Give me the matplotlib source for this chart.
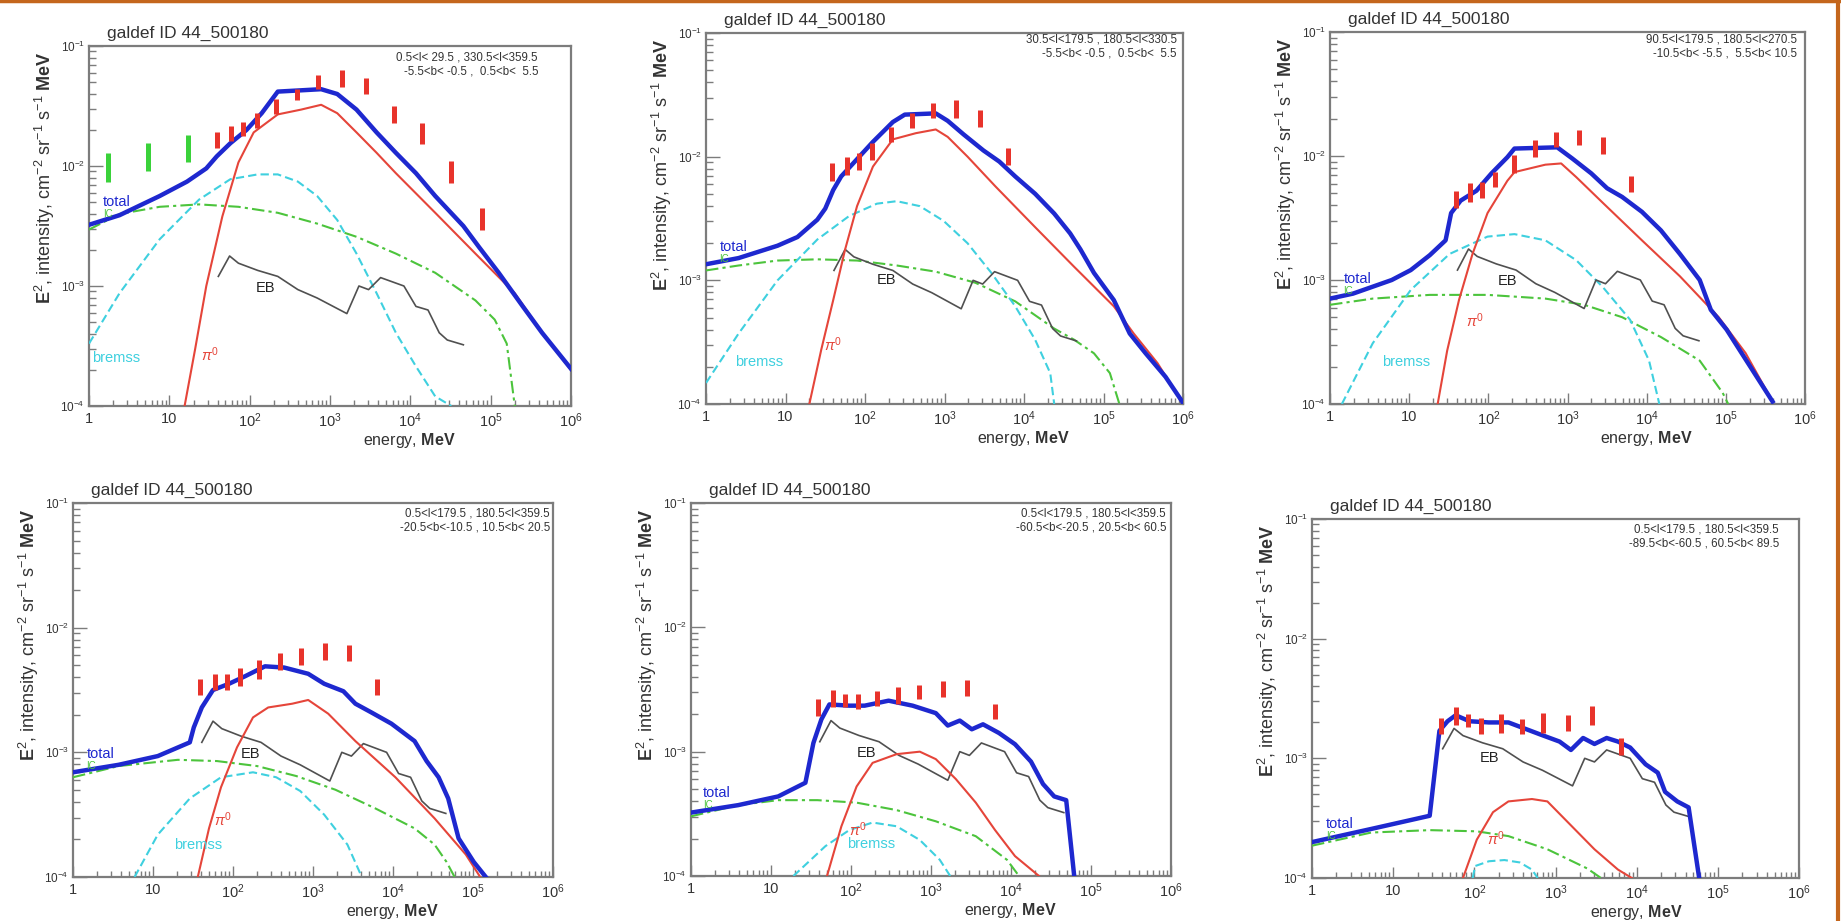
import numpy as np
import matplotlib
matplotlib.use("Agg")
import matplotlib.pyplot as plt
from matplotlib.lines import Line2D

plt.rcParams['font.family'] = ['Liberation Sans', 'DejaVu Sans']
plt.rcParams['mathtext.fontset'] = 'custom'
plt.rcParams['mathtext.rm'] = 'Liberation Sans'
plt.rcParams['mathtext.it'] = 'Liberation Sans:italic'
plt.rcParams['mathtext.bf'] = 'Liberation Sans:bold'

# ---------------- data (log10 E [MeV], log10 E^2 I) ----------------
EB_lgE = [1.61, 1.75, 1.86, 2.10, 2.35, 2.60, 2.84, 3.21, 3.36, 3.48, 3.63, 3.92, 4.07, 4.22, 4.36, 4.46, 4.66]
EB_lgI = [-2.92, -2.75, -2.81, -2.87, -2.92, -3.03, -3.10, -3.23, -3.00, -3.03, -2.93, -3.00, -3.17, -3.20, -3.39, -3.45, -3.49]

EGRET_E = [38.7, 59.2, 83.7, 122, 212, 387, 707, 1414, 2828, 6325, 14142, 31623, 77460]
COMPTEL_E = [1.73, 5.48, 17.3]
A_COMPTEL_lo = [-2.13, -2.04, -1.97]
A_COMPTEL_hi = [-1.89, -1.81, -1.74]

# Panel A
A_total_lgE = [0, .38, .88, 1.22, 1.46, 1.59, 1.76, 1.96, 2.15, 2.35, 2.89, 3.09, 3.33, 3.58, 3.82, 4.07, 4.31, 4.66, 4.86, 5.10, 5.40, 5.64, 6.0]
A_total_lgI = [-2.49, -2.41, -2.25, -2.13, -2.02, -1.92, -1.81, -1.70, -1.56, -1.38, -1.36, -1.40, -1.53, -1.72, -1.89, -2.06, -2.25, -2.50, -2.68, -2.89, -3.17, -3.39, -3.69]
A_pi0_lgE = [1.19, 1.32, 1.46, 1.66, 1.86, 2.05, 2.35, 2.64, 2.89, 3.09, 3.33, 3.58, 3.82, 4.31, 4.81, 5.30, 5.59, 6.0]
A_pi0_lgI = [-4.0, -3.53, -3.00, -2.42, -1.97, -1.72, -1.57, -1.53, -1.49, -1.56, -1.72, -1.89, -2.06, -2.39, -2.73, -3.06, -3.34, -3.70]
A_brems_lgE = [0, .38, .88, 1.37, 1.76, 2.10, 2.35, 2.60, 2.84, 3.09, 3.33, 3.58, 3.82, 4.07, 4.31, 4.51]
A_brems_lgI = [-3.48, -3.06, -2.61, -2.28, -2.11, -2.07, -2.07, -2.13, -2.25, -2.45, -2.73, -3.06, -3.39, -3.67, -3.92, -4.0]
A_IC_lgE = [0, .38, .88, 1.37, 1.86, 2.35, 2.84, 3.33, 3.82, 4.31, 4.81, 5.05, 5.20, 5.30]
A_IC_lgI = [-2.53, -2.40, -2.34, -2.32, -2.34, -2.39, -2.48, -2.59, -2.73, -2.89, -3.12, -3.28, -3.48, -4.0]
A_EGRET_lo = [-1.85, -1.79, -1.75, -1.68, -1.57, -1.45, -1.36, -1.34, -1.40, -1.64, -1.82, -2.14, -2.53]
A_EGRET_hi = [-1.72, -1.67, -1.63, -1.56, -1.44, -1.36, -1.24, -1.20, -1.27, -1.50, -1.64, -1.96, -2.35]

# Panel B
B_total_lgE = [0, .41, .90, 1.15, 1.40, 1.50, 1.60, 1.70, 1.90, 2.10, 2.35, 2.50, 2.89, 3.04, 3.24, 3.49, 3.69, 3.89, 4.14, 4.38, 4.58, 4.71, 4.88, 5.13, 5.33, 5.53, 5.78, 6.0]
B_total_lgI = [-2.87, -2.82, -2.72, -2.65, -2.51, -2.42, -2.27, -2.16, -2.02, -1.88, -1.72, -1.66, -1.65, -1.71, -1.82, -1.95, -2.04, -2.16, -2.30, -2.46, -2.62, -2.75, -2.94, -3.16, -3.43, -3.59, -3.78, -3.99]
B_pi0_lgE = [1.30, 1.45, 1.60, 1.75, 1.90, 2.10, 2.35, 2.64, 2.89, 3.04, 3.29, 3.64, 4.14, 4.63, 5.13, 5.38, 5.68, 6.0]
B_pi0_lgI = [-4.0, -3.56, -3.16, -2.75, -2.40, -2.08, -1.86, -1.81, -1.78, -1.84, -2.00, -2.24, -2.57, -2.89, -3.21, -3.43, -3.67, -4.0]
B_brems_lgE = [0, .41, .90, 1.40, 1.80, 2.15, 2.40, 2.69, 2.99, 3.29, 3.59, 3.89, 4.14, 4.33, 4.38]
B_brems_lgI = [-3.83, -3.43, -3.00, -2.67, -2.48, -2.38, -2.36, -2.40, -2.52, -2.70, -2.94, -3.21, -3.48, -3.75, -4.0]
B_IC_lgE = [0, .41, .90, 1.40, 1.90, 2.40, 2.89, 3.39, 3.89, 4.38, 4.63, 4.88, 5.08, 5.20]
B_IC_lgI = [-2.92, -2.88, -2.84, -2.83, -2.84, -2.88, -2.93, -3.02, -3.17, -3.39, -3.48, -3.59, -3.75, -4.0]
B_EGRET_lo = [-2.20, -2.15, -2.11, -2.03, -1.88, -1.77, -1.69, -1.69, -1.76, -2.07]
B_EGRET_hi = [-2.05, -2.00, -1.97, -1.89, -1.76, -1.65, -1.57, -1.54, -1.62, -1.93]

# Panel C
C_total_lgE = [0, .29, .78, 1.02, 1.26, 1.46, 1.53, 1.65, 1.85, 2.04, 2.24, 2.33, 2.87, 3.06, 3.30, 3.50, 3.69, 3.94, 4.18, 4.42, 4.67, 4.81, 5.01, 5.20, 5.39, 5.59]
C_total_lgI = [-3.15, -3.11, -3.00, -2.92, -2.80, -2.68, -2.46, -2.36, -2.28, -2.14, -2.01, -1.94, -1.93, -2.02, -2.14, -2.26, -2.33, -2.45, -2.60, -2.79, -3.00, -3.24, -3.40, -3.59, -3.78, -3.98]
C_pi0_lgE = [1.36, 1.48, 1.63, 1.80, 1.99, 2.24, 2.33, 2.72, 2.92, 3.11, 3.45, 3.94, 4.42, 4.91, 5.25, 5.59]
C_pi0_lgI = [-4.0, -3.57, -3.16, -2.79, -2.46, -2.20, -2.13, -2.07, -2.06, -2.17, -2.38, -2.68, -2.97, -3.30, -3.59, -3.98]
C_brems_lgE = [.15, .54, 1.02, 1.51, 1.99, 2.33, 2.72, 3.11, 3.45, 3.79, 4.03, 4.16]
C_brems_lgI = [-4.0, -3.51, -3.08, -2.79, -2.65, -2.63, -2.68, -2.84, -3.06, -3.32, -3.65, -4.0]
C_IC_lgE = [0, .54, 1.26, 1.99, 2.72, 3.21, 3.69, 4.18, 4.67, 4.96, 5.03]
C_IC_lgI = [-3.20, -3.15, -3.12, -3.12, -3.15, -3.20, -3.30, -3.46, -3.65, -3.91, -4.0]
C_EGRET_lo = [-2.42, -2.37, -2.34, -2.25, -2.14, -2.01, -1.93, -1.91, -1.98, -2.29]
C_EGRET_hi = [-2.28, -2.22, -2.21, -2.13, -1.99, -1.87, -1.81, -1.79, -1.85, -2.16]

# Panel D
D_total_lgE = [0, .57, 1.06, 1.46, 1.51, 1.61, 1.75, 1.95, 2.15, 2.40, 2.64, 2.94, 3.14, 3.38, 3.53, 3.73, 3.98, 4.27, 4.42, 4.57, 4.69, 4.82, 5.01, 5.16]
D_total_lgI = [-3.16, -3.10, -3.03, -2.92, -2.80, -2.64, -2.50, -2.45, -2.39, -2.31, -2.32, -2.37, -2.45, -2.51, -2.61, -2.68, -2.77, -2.91, -3.07, -3.20, -3.37, -3.69, -3.88, -4.0]
D_pi0_lgE = [1.56, 1.70, 1.85, 2.05, 2.25, 2.44, 2.74, 2.94, 3.19, 3.53, 4.03, 4.52, 4.91, 5.09]
D_pi0_lgI = [-4.0, -3.61, -3.28, -2.96, -2.72, -2.64, -2.61, -2.58, -2.69, -2.91, -3.20, -3.53, -3.82, -4.0]
D_brems_lgE = [.77, 1.06, 1.46, 1.85, 2.25, 2.54, 2.84, 3.14, 3.43, 3.61]
D_brems_lgI = [-4.0, -3.66, -3.37, -3.20, -3.16, -3.20, -3.31, -3.50, -3.74, -4.0]
D_IC_lgE = [0, .57, 1.31, 1.80, 2.30, 2.79, 3.28, 3.78, 4.27, 4.52, 4.67, 4.77]
D_IC_lgI = [-3.20, -3.11, -3.06, -3.07, -3.11, -3.19, -3.30, -3.45, -3.61, -3.74, -3.88, -4.0]
D_EGRET_lo = [-2.54, -2.50, -2.50, -2.47, -2.41, -2.34, -2.30, -2.26, -2.27, -2.54]
D_EGRET_hi = [-2.41, -2.37, -2.37, -2.32, -2.26, -2.20, -2.16, -2.12, -2.14, -2.41]

# Panel E
E_total_lgE = [0, .59, 1.09, 1.43, 1.53, 1.63, 1.73, 1.98, 2.17, 2.47, 2.77, 3.06, 3.21, 3.36, 3.51, 3.65, 3.85, 4.05, 4.25, 4.40, 4.54, 4.69, 4.79]
E_total_lgI = [-3.49, -3.43, -3.36, -3.25, -2.93, -2.74, -2.62, -2.63, -2.63, -2.59, -2.63, -2.69, -2.79, -2.75, -2.82, -2.78, -2.85, -2.94, -3.08, -3.26, -3.36, -3.39, -4.0]
E_pi0_lgE = [1.70, 1.88, 2.07, 2.27, 2.57, 2.86, 3.06, 3.31, 3.56, 3.80, 4.05, 4.35]
E_pi0_lgI = [-4.0, -3.60, -3.28, -3.09, -3.02, -3.00, -3.06, -3.22, -3.41, -3.63, -3.84, -4.0]
E_brems_lgE = [1.28, 1.68, 1.98, 2.27, 2.57, 2.86, 3.11, 3.24]
E_brems_lgI = [-4.0, -3.76, -3.63, -3.57, -3.60, -3.71, -3.87, -4.0]
E_IC_lgE = [0, .59, 1.09, 1.58, 2.07, 2.57, 3.06, 3.56, 3.95, 4.10]
E_IC_lgI = [-3.52, -3.43, -3.39, -3.39, -3.41, -3.47, -3.56, -3.68, -3.87, -4.0]
E_EGRET_lo = [-2.71, -2.64, -2.64, -2.66, -2.63, -2.62, -2.58, -2.56, -2.55, -2.74]
E_EGRET_hi = [-2.58, -2.50, -2.54, -2.54, -2.51, -2.48, -2.46, -2.43, -2.42, -2.62]

# Panel F
F_total_lgE = [0, .73, 1.45, 1.57, 1.67, 1.77, 1.94, 2.18, 2.42, 2.81, 3.05, 3.19, 3.34, 3.48, 3.63, 3.77, 3.92, 4.11, 4.26, 4.35, 4.50, 4.64, 4.77]
F_total_lgI = [-3.70, -3.59, -3.48, -2.77, -2.69, -2.64, -2.69, -2.70, -2.70, -2.80, -2.86, -2.93, -2.83, -2.88, -2.83, -2.86, -2.91, -3.05, -3.12, -3.28, -3.36, -3.41, -4.0]
F_pi0_lgE = [1.86, 2.03, 2.23, 2.42, 2.71, 2.90, 3.19, 3.48, 3.77, 3.94]
F_pi0_lgI = [-4.0, -3.68, -3.45, -3.36, -3.34, -3.36, -3.56, -3.76, -3.93, -4.0]
F_brems_lgE = [1.98, 2.01, 2.18, 2.37, 2.56, 2.71, 2.78]
F_brems_lgI = [-4.0, -3.90, -3.86, -3.85, -3.87, -3.93, -4.0]
F_IC_lgE = [0, .73, 1.45, 2.03, 2.42, 2.90, 3.39, 3.56]
F_IC_lgI = [-3.73, -3.62, -3.60, -3.61, -3.65, -3.76, -3.92, -4.0]
F_EGRET_lo = [-2.80, -2.72, -2.74, -2.80, -2.79, -2.80, -2.79, -2.77, -2.72, -2.97]
F_EGRET_hi = [-2.66, -2.57, -2.63, -2.66, -2.63, -2.67, -2.62, -2.64, -2.56, -2.83]

TITLE = "galdef ID 44_500180"
REGION_TEXT = {
    'A': ("0.5<l< 29.5 , 330.5<l<359.5", "-5.5<b< -0.5 ,  0.5<b<  5.5"),
    'B': ("30.5<l<179.5 , 180.5<l<330.5", "-5.5<b< -0.5 ,  0.5<b<  5.5"),
    'C': ("90.5<l<179.5 , 180.5<l<270.5", "-10.5<b< -5.5 ,  5.5<b< 10.5"),
    'D': ("0.5<l<179.5 , 180.5<l<359.5", "-20.5<b<-10.5 , 10.5<b< 20.5"),
    'E': ("0.5<l<179.5 , 180.5<l<359.5", "-60.5<b<-20.5 , 20.5<b< 60.5"),
    'F': ("0.5<l<179.5 , 180.5<l<359.5", "-89.5<b<-60.5 , 60.5<b< 89.5"),
}
# curve label anchor points (log10 E, log10 I)
LABELS = {
    'A': [("total", 0.17, -2.30), ("bremss", 0.04, -3.60), ("pi", 1.40, -3.57), ("EB", 2.08, -3.02)],
    'B': [("total", 0.17, -2.73), ("bremss", 0.36, -3.66), ("pi", 1.48, -3.52), ("EB", 2.15, -3.00)],
    'C': [("total", 0.17, -2.99), ("bremss", 0.66, -3.66), ("pi", 1.72, -3.33), ("EB", 2.12, -3.01)],
    'D': [("total", 0.17, -3.01), ("bremss", 1.26, -3.74), ("pi", 1.76, -3.54), ("EB", 2.10, -3.01)],
    'E': [("total", 0.15, -3.33), ("bremss", 1.95, -3.74), ("pi", 1.98, -3.63), ("EB", 2.07, -3.01)],
    'F': [("total", 0.17, -3.55), ("pi", 2.15, -3.67), ("EB", 2.07, -3.00)],
}

# ---------------- layout (pixels) ----------------
W, H = 1841, 921
# left, top, right, bottom
RECTS = {
    'A': (89, 46, 571, 406),
    'B': (706, 33, 1183, 404),
    'C': (1330, 32, 1805, 404),
    'D': (73, 503, 553, 877),
    'E': (691, 503, 1171, 876),
    'F': (1312, 519, 1799, 878),
}
TEXT_OFF = {'A': (-33, 11, 25), 'B': (-6, 6, 20), 'C': (-8, 7, 21),
            'D': (-3, 10, 24), 'E': (-5, 10, 24), 'F': (-20, 11, 24)}

COL_TOTAL = '#1e28cf'
COL_PI = '#e5453a'
COL_BREMS = '#3fd0df'
COL_IC = '#4cc43c'
COL_EB = '#505050'
COL_EGRET = '#e8332b'
COL_COMPTEL = '#3ad23a'
FRAME = '#7c7c7c'

fig = plt.figure(figsize=(W / 100, H / 100), dpi=100)
fig.patch.set_facecolor('white')

p10 = lambda a: np.power(10.0, np.asarray(a, dtype=float))

panels = {
    'A': (A_total_lgE, A_total_lgI, A_pi0_lgE, A_pi0_lgI, A_brems_lgE, A_brems_lgI, A_IC_lgE, A_IC_lgI, A_EGRET_lo, A_EGRET_hi),
    'B': (B_total_lgE, B_total_lgI, B_pi0_lgE, B_pi0_lgI, B_brems_lgE, B_brems_lgI, B_IC_lgE, B_IC_lgI, B_EGRET_lo, B_EGRET_hi),
    'C': (C_total_lgE, C_total_lgI, C_pi0_lgE, C_pi0_lgI, C_brems_lgE, C_brems_lgI, C_IC_lgE, C_IC_lgI, C_EGRET_lo, C_EGRET_hi),
    'D': (D_total_lgE, D_total_lgI, D_pi0_lgE, D_pi0_lgI, D_brems_lgE, D_brems_lgI, D_IC_lgE, D_IC_lgI, D_EGRET_lo, D_EGRET_hi),
    'E': (E_total_lgE, E_total_lgI, E_pi0_lgE, E_pi0_lgI, E_brems_lgE, E_brems_lgI, E_IC_lgE, E_IC_lgI, E_EGRET_lo, E_EGRET_hi),
    'F': (F_total_lgE, F_total_lgI, F_pi0_lgE, F_pi0_lgI, F_brems_lgE, F_brems_lgI, F_IC_lgE, F_IC_lgI, F_EGRET_lo, F_EGRET_hi),
}

xt_labels = ['1', '10', r'$10^{2}$', r'$10^{3}$', r'$10^{4}$', r'$10^{5}$', r'$10^{6}$']
yt_labels = [r'$10^{-4}$', r'$10^{-3}$', r'$10^{-2}$', r'$10^{-1}$']

LBL_FS = 10.5

for key, (tE, tI, pE, pI, bE, bI, iE, iI, elo, ehi) in panels.items():
    l, t, r, b = RECTS[key]
    ax = fig.add_axes([l / W, 1 - b / H, (r - l) / W, (b - t) / H])
    ax.set_xscale('log')
    ax.set_yscale('log')
    ax.set_xlim(1, 1e6)
    ax.set_ylim(1e-4, 1e-1)

    ax.plot(p10(iE), p10(iI), color=COL_IC, lw=1.5, dashes=(6, 2, 1.5, 2), zorder=3)
    ax.plot(p10(bE), p10(bI), color=COL_BREMS, lw=1.5, dashes=(4, 2), zorder=3)
    ax.plot(p10(EB_lgE), p10(EB_lgI), color=COL_EB, lw=1.2, zorder=3)
    ax.plot(p10(pE), p10(pI), color=COL_PI, lw=1.5, zorder=4)
    ax.plot(p10(tE), p10(tI), color=COL_TOTAL, lw=3.2, zorder=5, solid_joinstyle='round')

    n = len(elo)
    ax.vlines(EGRET_E[:n], p10(elo), p10(ehi), color=COL_EGRET, lw=3.6, zorder=6)
    if key == 'A':
        ax.vlines(COMPTEL_E, p10(A_COMPTEL_lo), p10(A_COMPTEL_hi), color=COL_COMPTEL, lw=3.6, zorder=6)

    # labels on curves
    for name, lx, ly in LABELS[key]:
        if name == 'total':
            ax.text(10 ** lx, 10 ** ly, 'total', color=COL_TOTAL, fontsize=LBL_FS, ha='left', va='center', zorder=7)
            ax.text(10 ** lx, 10 ** (ly - 0.10), 'IC', color=COL_IC, fontsize=7, ha='left', va='center', zorder=7)
        elif name == 'bremss':
            ax.text(10 ** lx, 10 ** ly, 'bremss', color=COL_BREMS, fontsize=LBL_FS, ha='left', va='center', zorder=7)
        elif name == 'pi':
            ax.text(10 ** lx, 10 ** ly, r'$\pi^{0}$', color=COL_PI, fontsize=LBL_FS, ha='left', va='center', zorder=7)
        elif name == 'EB':
            ax.text(10 ** lx, 10 ** ly, 'EB', color='#222222', fontsize=LBL_FS, ha='left', va='center', zorder=7)

    # axes styling (ROOT-like)
    for s in ax.spines.values():
        s.set_color(FRAME)
        s.set_linewidth(1.6)
    ax.set_xticks([1, 10, 1e2, 1e3, 1e4, 1e5, 1e6])
    ax.set_xticklabels(xt_labels)
    ax.set_yticks([1e-4, 1e-3, 1e-2, 1e-1])
    ax.set_yticklabels(yt_labels)
    ax.xaxis.set_minor_locator(matplotlib.ticker.LogLocator(base=10, subs=np.arange(2, 10), numticks=20))
    ax.yaxis.set_minor_locator(matplotlib.ticker.LogLocator(base=10, subs=np.arange(2, 10), numticks=20))
    ax.xaxis.set_minor_formatter(matplotlib.ticker.NullFormatter())
    ax.yaxis.set_minor_formatter(matplotlib.ticker.NullFormatter())
    ax.tick_params(which='both', direction='in', top=False, right=False, color=FRAME, width=1.0)
    ax.tick_params(axis='x', which='major', length=8, labelsize=10.5, pad=4, labelcolor='#333333')
    ax.tick_params(axis='x', which='minor', length=4)
    ax.tick_params(axis='y', which='major', length=10, labelsize=8.5, pad=3, labelcolor='#333333')
    ax.tick_params(axis='y', which='minor', length=5)

    # title above frame
    ax.annotate(TITLE, xy=(0, 1), xycoords='axes fraction', xytext=(18, 13), textcoords='offset pixels',
                ha='left', va='center', fontsize=12.5, color='#333333')
    # region text in upper right
    dx, y1, y2 = TEXT_OFF[key]
    l1, l2 = REGION_TEXT[key]
    ax.annotate(l1, xy=(1, 1), xycoords='axes fraction', xytext=(dx, -y1), textcoords='offset pixels',
                ha='right', va='center', fontsize=8.3, color='#333333')
    ax.annotate(l2, xy=(1, 1), xycoords='axes fraction', xytext=(dx, -y2), textcoords='offset pixels',
                ha='right', va='center', fontsize=8.3, color='#333333')
    # axis titles
    ax.annotate('energy, ' + r'$\mathbf{MeV}$', xy=(0.665, 0), xycoords='axes fraction', xytext=(0, -34),
                textcoords='offset pixels', ha='center', va='center', fontsize=11.5, color='#333333')
    ax.annotate(r'$\mathbf{E}^{2}$' + ', intensity, cm$^{-2}$ sr$^{-1}$ s$^{-1}$ ' + r'$\mathbf{MeV}$',
                xy=(0, 0.985), xycoords='axes fraction', xytext=(-44, 0), textcoords='offset pixels',
                ha='center', va='top', rotation=90, fontsize=13, color='#333333')

# orange slide border (top and right)
fig.add_artist(Line2D([0, 1], [1 - 1.5 / H, 1 - 1.5 / H], transform=fig.transFigure, color='#c4661c', lw=2.5))
fig.add_artist(Line2D([1 - 3 / W, 1 - 3 / W], [0, 1], transform=fig.transFigure, color='#c4661c', lw=3))

fig.savefig('out.png', dpi=100, facecolor='white')
